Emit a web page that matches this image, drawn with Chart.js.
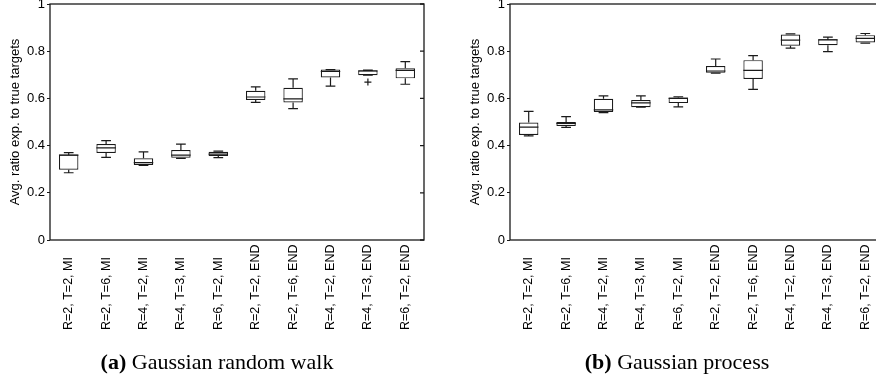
<!DOCTYPE html>
<html>
<head>
<meta charset="utf-8">
<script src="https://cdn.jsdelivr.net/npm/chart.js@4.4.1/dist/chart.umd.min.js"></script>
<style>
  html, body { margin: 0; padding: 0; background: #fff; overflow: hidden; width: 876px; height: 381px; }
  .painel { position: absolute; top: -6px; }
  .legenda { position: absolute; top: 348px; font-family: "Liberation Serif", "Times New Roman", serif; font-size: 22px; color: #000; text-align: center; width: 400px; line-height: 28px; }
</style>
</head>
<body>
<div class="painel" style="left:0px"><canvas id="graficoPasseio" width="440" height="387"></canvas></div>
<div class="painel" style="left:460px"><canvas id="graficoProcesso" width="440" height="387"></canvas></div>
<div class="legenda" style="left:17px"><b>(a)</b> Gaussian random walk</div>
<div class="legenda" style="left:477px"><b>(b)</b> Gaussian process</div>
<script>
const categorias = ["R=2, T=2, MI", "R=2, T=6, MI", "R=4, T=2, MI", "R=4, T=3, MI", "R=6, T=2, MI",
                    "R=2, T=2, END", "R=2, T=6, END", "R=4, T=2, END", "R=4, T=3, END", "R=6, T=2, END"];

const ticksY = [0, 0.2, 0.4, 0.6, 0.8, 1];

// (a) passeio aleatorio gaussiano
const rwMin = [0.285, 0.350, 0.316, 0.346, 0.349, 0.583, 0.557, 0.652, 0.698, 0.660];
const rwQ1  = [0.298, 0.369, 0.318, 0.349, 0.356, 0.593, 0.583, 0.689, 0.698, 0.685];
const rwMed = [0.360, 0.390, 0.328, 0.360, 0.364, 0.606, 0.598, 0.714, 0.716, 0.719];
const rwQ3  = [0.362, 0.407, 0.346, 0.381, 0.374, 0.632, 0.645, 0.722, 0.719, 0.728];
const rwMax = [0.370, 0.421, 0.373, 0.406, 0.377, 0.649, 0.683, 0.722, 0.720, 0.756];
const rwOut = [[], [], [], [], [], [], [], [], [0.669], []];

// (b) processo gaussiano
const gpMin = [0.441, 0.477, 0.540, 0.563, 0.564, 0.707, 0.638, 0.813, 0.798, 0.834];
const gpQ1  = [0.445, 0.483, 0.542, 0.563, 0.580, 0.709, 0.682, 0.823, 0.825, 0.837];
const gpMed = [0.478, 0.494, 0.551, 0.581, 0.600, 0.716, 0.719, 0.847, 0.848, 0.854];
const gpQ3  = [0.498, 0.500, 0.598, 0.593, 0.604, 0.737, 0.762, 0.871, 0.851, 0.868];
const gpMax = [0.545, 0.523, 0.611, 0.611, 0.607, 0.767, 0.781, 0.873, 0.860, 0.875];
const gpOut = [[], [], [], [], [], [], [], [], [], []];

const cor = "#1a1a1a";
const fonte = "Liberation Sans, Arial, sans-serif";

// bigodes, mediana, outliers, moldura e rotulos do eixo x
const pluginBox = {
    id: "boxplot",
    afterDatasetsDraw(chart) {
        const st = chart.options.plugins.boxplot;
        const ctx = chart.ctx;
        const x = chart.scales.x, y = chart.scales.y;
        const barras = chart.getDatasetMeta(0).data;
        ctx.save();
        ctx.strokeStyle = cor;
        ctx.lineWidth = 1.2;
        barras.forEach((b, i) => {
            const cx = x.getPixelForValue(i);
            const half = b.width / 2;
            const cap = half / 2;
            const pMin = y.getPixelForValue(st.min[i]);
            const pQ1 = y.getPixelForValue(st.q1[i]);
            const pMed = y.getPixelForValue(st.med[i]);
            const pQ3 = y.getPixelForValue(st.q3[i]);
            const pMax = y.getPixelForValue(st.max[i]);
            ctx.beginPath();
            ctx.moveTo(cx, pQ3); ctx.lineTo(cx, pMax);
            ctx.moveTo(cx - cap, pMax); ctx.lineTo(cx + cap, pMax);
            ctx.moveTo(cx, pQ1); ctx.lineTo(cx, pMin);
            ctx.moveTo(cx - cap, pMin); ctx.lineTo(cx + cap, pMin);
            ctx.moveTo(cx - half, pMed); ctx.lineTo(cx + half, pMed);
            ctx.stroke();
            st.out[i].forEach(v => {
                const py = y.getPixelForValue(v);
                ctx.beginPath();
                ctx.moveTo(cx - 3.5, py); ctx.lineTo(cx + 3.5, py);
                ctx.moveTo(cx, py - 3.5); ctx.lineTo(cx, py + 3.5);
                ctx.stroke();
            });
        });
        const a = chart.chartArea;
        ctx.lineWidth = 1.3;
        ctx.strokeRect(a.left, a.top, a.right - a.left, a.bottom - a.top);
        ctx.beginPath();
        ticksY.forEach(v => {
            const py = y.getPixelForValue(v);
            ctx.moveTo(a.right, py); ctx.lineTo(a.right - 4, py);
        });
        ctx.stroke();

        // rotulos x: comecam todos na mesma linha embaixo e sobem
        ctx.fillStyle = "#000";
        ctx.font = "12.5px " + fonte;
        ctx.textAlign = "left";
        ctx.textBaseline = "middle";
        categorias.forEach((c, i) => {
            ctx.save();
            ctx.translate(x.getPixelForValue(i), a.bottom + 90);
            ctx.rotate(-Math.PI / 2);
            ctx.fillText(c, 0, 0);
            ctx.restore();
        });
        ctx.restore();
    }
};

function criaGrafico(id, mn, q1, med, q3, mx, out) {
    new Chart(document.getElementById(id), {
        type: "bar",
        data: {
            labels: categorias,
            datasets: [{
                data: q1.map((v, i) => [v, q3[i]]),
                backgroundColor: "#fff",
                borderColor: cor,
                borderWidth: 1.2,
                borderSkipped: false,
                categoryPercentage: 1,
                barPercentage: 0.52
            }]
        },
        options: {
            responsive: false,
            animation: false,
            layout: { padding: { top: 10, right: 16, bottom: 41, left: 0 } },
            plugins: {
                legend: { display: false },
                tooltip: { enabled: false },
                boxplot: { min: mn, q1: q1, med: med, q3: q3, max: mx, out: out }
            },
            scales: {
                x: {
                    grid: { display: false, drawTicks: false },
                    border: { display: false },
                    ticks: { display: false },
                    afterFit(s) { s.height = 100; }
                },
                y: {
                    min: 0, max: 1,
                    afterBuildTicks(s) { s.ticks = ticksY.map(v => ({ value: v })); },
                    grid: { drawOnChartArea: false, drawTicks: true, tickLength: 3, color: cor },
                    border: { display: false },
                    ticks: {
                        padding: 2, color: "#000", font: { family: fonte, size: 13 },
                        callback: (v) => String(v)
                    },
                    title: {
                        display: true, text: "Avg. ratio exp. to true targets", color: "#000",
                        padding: { top: 8, bottom: 0 },
                        font: { family: fonte, size: 13 }
                    },
                    afterFit(s) { s.width = 50; }
                }
            }
        },
        plugins: [pluginBox]
    });
}

criaGrafico("graficoPasseio", rwMin, rwQ1, rwMed, rwQ3, rwMax, rwOut);
criaGrafico("graficoProcesso", gpMin, gpQ1, gpMed, gpQ3, gpMax, gpOut);
</script>
</body>
</html>
